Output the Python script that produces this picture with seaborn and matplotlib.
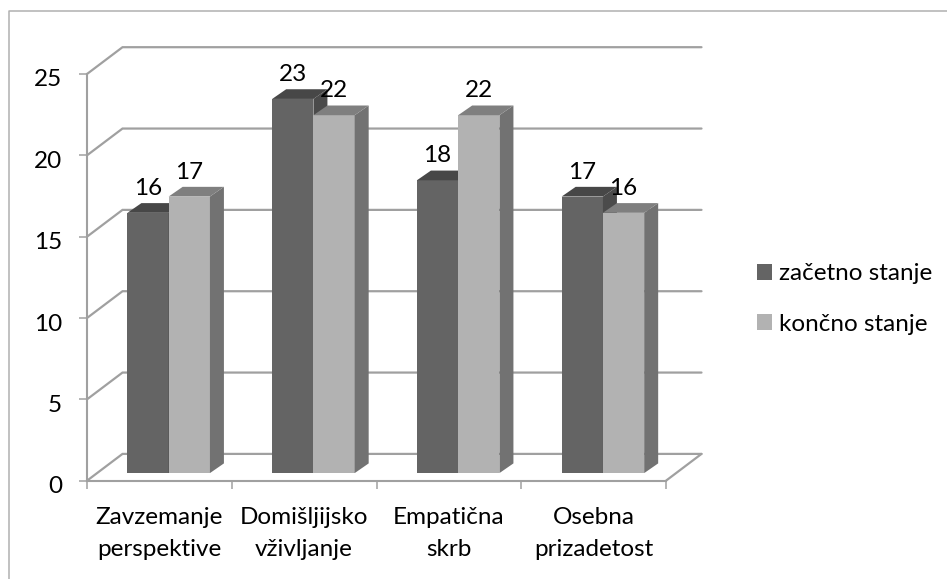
import matplotlib
matplotlib.use('Agg')
import matplotlib.pyplot as plt
import pandas as pd
import seaborn as sns
from matplotlib.lines import Line2D
from matplotlib.patches import Polygon
from matplotlib.transforms import ScaledTranslation

categories = ['Zavzemanje\nperspektive', 'Domišljijsko\nvživljanje', 'Empatična\nskrb', 'Osebna\nprizadetost']
series_names = ['začetno stanje', 'končno stanje']
start_values = [16, 23, 18, 17]
end_values = [17, 22, 22, 16]
y_ticks = [0, 5, 10, 15, 20, 25]

front_colors = ['#646464', '#b2b2b2']
top_colors = ['#474747', '#7f7f7f']
side_colors = ['#4b4b4b', '#727272']
line_color = '#a0a0a0'

W, H = 947, 579
sns.set_theme(style='white')
plt.rcParams['font.family'] = ['Lato', 'DejaVu Sans']
FONT = 17.5


def px_box(left, right, top, bottom):
    # pixel box (from top left of the image) to figure fractions
    return [left / W, 1 - bottom / H, (right - left) / W, (bottom - top) / H]


df = pd.DataFrame({
    'category': categories * 2,
    'series': [series_names[0]] * 4 + [series_names[1]] * 4,
    'value': start_values + end_values,
})

fig = plt.figure(figsize=(W / 100, H / 100), dpi=100)

# front axis with ticks, walls behind the bars
ax = fig.add_axes(px_box(87, 666, 74, 480.7))
ax.set_xlim(-0.5, 3.5)
ax.set_ylim(0, 25)
ax.patch.set_alpha(0)
for name, spine in ax.spines.items():
    spine.set_visible(name in ('left', 'bottom'))
    spine.set_color(line_color)
    spine.set_linewidth(1.5)

wall_dx = 35.5 / 144.75
wall_dy = 26.8 / 16.27
for v in y_ticks:
    ax.plot([-0.5, -0.5 + wall_dx, 3.5 + wall_dx], [v, v + wall_dy, v + wall_dy],
            color=line_color, lw=1.6, clip_on=False, solid_joinstyle='miter')
ax.plot([3.5, 3.5 + wall_dx], [0, wall_dy], color=line_color, lw=1.6, clip_on=False)

ax.set_yticks(y_ticks)
ax.set_xticks([-0.5, 0.5, 1.5, 2.5, 3.5])
ax.set_xticklabels([])
ax.set_xticks([0, 1, 2, 3], labels=categories, minor=True)
ax.tick_params(axis='both', which='major', left=True, bottom=True, length=6,
               width=1.1, color=line_color, labelsize=FONT, labelcolor='black', pad=12)
ax.tick_params(axis='x', which='minor', length=0, labelsize=FONT, labelcolor='black', pad=19)
for label in ax.get_xticklabels(minor=True):
    label.set_linespacing(1.66)
# numbers sit a bit under their ticks in the original
shift = ScaledTranslation(0, -4 / 100, fig.dpi_scale_trans)
for label in ax.get_yticklabels():
    label.set_transform(label.get_transform() + shift)

# bars sit a little inside the floor
ax_bars = fig.add_axes(px_box(96.3, 675.3, 66.4, 473.1))
ax_bars.patch.set_alpha(0)
sns.barplot(data=df, x='category', y='value', hue='series', hue_order=series_names,
            palette=front_colors, saturation=1, width=82.5 / 144.75, gap=0,
            linewidth=0, ax=ax_bars)
ax_bars.set_xlim(-0.5, 3.5)
ax_bars.set_ylim(0, 25)
ax_bars.axis('off')

bar_dx = 14 / 144.75
bar_dy = 9.7 / 16.27
for i, container in enumerate(ax_bars.containers):
    for bar in container:
        x0, w, h = bar.get_x(), bar.get_width(), bar.get_height()
        bar.set_zorder(3 + i)
        ax_bars.add_patch(Polygon([(x0 + w, 0), (x0 + w + bar_dx, bar_dy),
                                   (x0 + w + bar_dx, h + bar_dy), (x0 + w, h)],
                                  facecolor=side_colors[i], lw=0, zorder=3 + i))
        ax_bars.add_patch(Polygon([(x0, h), (x0 + bar_dx, h + bar_dy),
                                   (x0 + w + bar_dx, h + bar_dy), (x0 + w, h)],
                                  facecolor=top_colors[i], lw=0, zorder=3 + i))
    ax_bars.bar_label(container, fontsize=FONT, color='black', padding=10, zorder=6)

handles, labels = ax_bars.get_legend_handles_labels()
ax_bars.get_legend().remove()
fig.legend(handles, labels, loc='center left', bbox_to_anchor=(757 / W, 1 - 299 / H),
           frameon=False, fontsize=FONT, handlelength=0.62, handleheight=0.62,
           handletextpad=0.3, labelspacing=1.2, borderpad=0, borderaxespad=0,
           labelcolor='black')

# chart frame, only top and left show in the crop
fig.add_artist(Line2D([9 / W, 9 / W, 1], [0, 1 - 11 / H, 1 - 11 / H], color='#b0b0b0', lw=1.1))

fig.savefig('out.png', dpi=100)
